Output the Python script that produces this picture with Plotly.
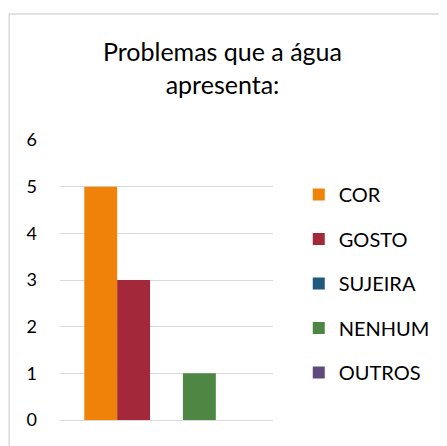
import plotly.graph_objects as go

# dados
categoria = ["Problemas"]
series = ["COR", "GOSTO", "SUJEIRA", "NENHUM", "OUTROS"]
valores = [5, 3, 0, 1, 0]
cores = ["#F0820A", "#A2283A", "#1F5A7E", "#4E8744", "#5F4A7E"]
y_ticks = [0, 1, 2, 3, 4, 5, 6]

# a página tem 8px de margem no body, por isso tudo é deslocado
OFF = 8
W, H = 447 - OFF, 446 - OFF
L, R, T, B = 60 - OFF, 447 - 275, 140 - OFF, 446 - 420
pw, ph = W - L - R, H - T - B

fig = go.Figure()
for nome, v, c in zip(series, valores, cores):
    fig.add_trace(go.Bar(x=categoria, y=[v], name=nome, marker_color=c,
                         marker_line_width=0, legendgroup=nome))

def px_x(p):
    return (p - OFF - L) / pw

def px_y(p):
    return 1 - (p - OFF - T) / ph

fig.update_layout(
    width=W, height=H,
    margin=dict(l=L, r=R, t=T, b=B),
    paper_bgcolor="white", plot_bgcolor="white",
    font=dict(family="Lato, Open Sans, sans-serif", color="#000000"),
    title=dict(text="Problemas que a água<br>apresenta:",
               font=dict(size=25, color="#000000"),
               x=(222.5 - OFF) / W, xanchor="center", xref="container",
               y=1 - 53 / H, yanchor="top", yref="container"),
    barmode="group", bargap=0.228, bargroupgap=0,
    showlegend=True,
    legend=dict(x=px_x(301), xanchor="left", y=px_y(175), yanchor="top",
                font=dict(size=20), tracegroupgap=15.5,
                bgcolor="rgba(0,0,0,0)", itemclick=False),
    xaxis=dict(showticklabels=False, showgrid=False, showline=False,
               zeroline=False),
    yaxis=dict(range=[0, 6], tickvals=y_ticks, showgrid=True,
               gridcolor="#D9D9D9", gridwidth=1.3, zeroline=True,
               zerolinecolor="#D9D9D9", zerolinewidth=1.3,
               showline=False, tickfont=dict(size=18),
               ticks="", ticklabelstandoff=22),
    shapes=[dict(type="rect", xref="paper", yref="paper",
                 x0=px_x(8.75), x1=px_x(470), y0=px_y(470), y1=px_y(14),
                 line=dict(color="#D9D9D9", width=1.5), layer="below")],
)

fig.write_html("out.html")
